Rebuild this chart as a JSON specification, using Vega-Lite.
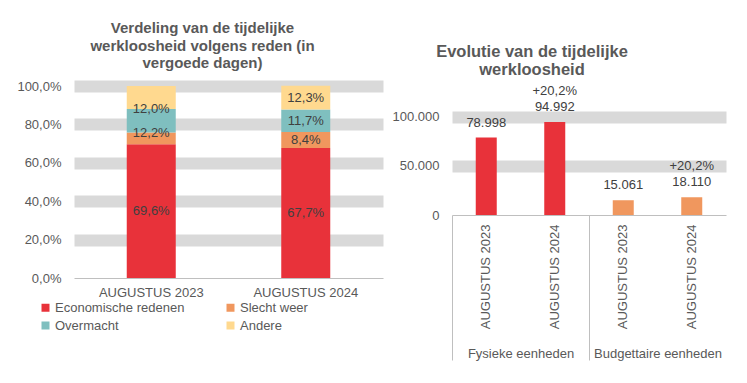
{
  "$schema": "https://vega.github.io/schema/vega-lite/v6.json",
  "padding": {"left": 16, "top": 21, "right": 5, "bottom": 5},
  "config": {
    "font": "Liberation Sans",
    "view": {"stroke": null},
    "locale": {"number": {"decimal": ",", "thousands": ".", "grouping": [3], "currency": ["€", ""]}},
    "axis": {"labelColor": "#595959", "labelFontSize": 13, "titleColor": "#595959", "domainColor": "#BFBFBF", "ticks": false, "labelOverlap": false},
    "title": {"color": "#595959", "fontSize": 15, "fontWeight": "bold", "lineHeight": 17.5}
  },
  "resolve": {"scale": {"color": "independent"}, "legend": {"color": "independent"}},
  "spacing": 9,
  "hconcat": [
    {
      "width": 309,
      "height": 192,
      "title": {"text": ["Verdeling van de tijdelijke", "werkloosheid volgens reden (in", "vergoede dagen)"], "dx": -26, "offset": 9},
      "data": {"values": [
        {"period": "AUGUSTUS 2023", "reden": "Economische redenen", "value": 0.696},
        {"period": "AUGUSTUS 2023", "reden": "Slecht weer", "value": 0.062},
        {"period": "AUGUSTUS 2023", "reden": "Overmacht", "value": 0.122},
        {"period": "AUGUSTUS 2023", "reden": "Andere", "value": 0.120},
        {"period": "AUGUSTUS 2024", "reden": "Economische redenen", "value": 0.677},
        {"period": "AUGUSTUS 2024", "reden": "Slecht weer", "value": 0.084},
        {"period": "AUGUSTUS 2024", "reden": "Overmacht", "value": 0.117},
        {"period": "AUGUSTUS 2024", "reden": "Andere", "value": 0.123}
      ]},
      "transform": [
        {"calculate": "indexof(['Economische redenen','Slecht weer','Overmacht','Andere'], datum.reden)", "as": "ord"}
      ],
      "encoding": {
        "x": {"field": "period", "type": "nominal", "scale": {"paddingInner": 0, "paddingOuter": 0},
              "axis": {"title": null, "labelAngle": 0, "labelPadding": 8}},
        "order": {"field": "ord", "type": "quantitative"}
      },
      "layer": [
        {
          "mark": {"type": "bar", "size": 49},
          "encoding": {
            "y": {"field": "value", "type": "quantitative", "stack": "zero",
                  "scale": {"domain": [0, 1], "nice": false},
                  "axis": {"title": null, "tickCount": 5, "format": ".1%", "domain": false, "labelPadding": 13,
                           "grid": true, "gridColor": "#D9D9D9",
                           "gridWidth": {"condition": {"test": "datum.value == 0", "value": 0}, "value": 12}}},
            "color": {"field": "reden", "type": "nominal",
                      "scale": {"domain": ["Economische redenen", "Slecht weer", "Overmacht", "Andere"],
                                "range": ["#E8323A", "#F0975E", "#7FBFBF", "#FFD98F"]},
                      "legend": {"title": null, "orient": "none", "legendX": -35, "legendY": 215, "columns": 2, "direction": "horizontal",
                                 "symbolType": "square", "symbolSize": 64, "symbolStrokeWidth": 0, "labelFontSize": 13, "labelColor": "#595959",
                                 "labelOffset": 3, "columnPadding": 39, "rowPadding": 4, "labelLimit": 300}}
          }
        },
        {
          "transform": [{"filter": "datum.value >= 0.07"}],
          "mark": {"type": "text", "fontSize": 13, "color": "#404040"},
          "encoding": {
            "y": {"field": "value", "type": "quantitative", "stack": "zero", "bandPosition": 0.5},
            "text": {"field": "value", "type": "quantitative", "format": ".1%"}
          }
        }
      ]
    },
    {
      "width": 274,
      "height": 129,
      "title": {"text": ["Evolutie van de tijdelijke", "werkloosheid"], "dx": -57, "offset": 6, "fontSize": 16.5, "lineHeight": 18.5},
      "data": {"values": [
        {"group": "Fysieke eenheden", "key": "F|AUGUSTUS 2023", "value": 78998, "change": ""},
        {"group": "Fysieke eenheden", "key": "F|AUGUSTUS 2024", "value": 94992, "change": "+20,2%"},
        {"group": "Budgettaire eenheden", "key": "B|AUGUSTUS 2023", "value": 15061, "change": ""},
        {"group": "Budgettaire eenheden", "key": "B|AUGUSTUS 2024", "value": 18110, "change": "+20,2%"}
      ]},
      "resolve": {"scale": {"x": "independent"}, "axis": {"x": "independent"}},
      "layer": [
        {
          "encoding": {
            "x": {"field": "key", "type": "nominal", "sort": null, "scale": {"paddingInner": 0, "paddingOuter": 0},
                  "axis": {"title": null, "orient": "bottom", "labelAngle": -90, "labelPadding": 9, "labelExpr": "split(datum.label, '|')[1]"}},
            "y": {"field": "value", "type": "quantitative", "scale": {"domain": [0, 131600], "nice": false},
                  "axis": {"title": null, "values": [0, 50000, 100000], "format": ",d", "domain": false, "labelPadding": 13,
                           "grid": true, "gridColor": "#D9D9D9",
                           "gridWidth": {"condition": {"test": "datum.value == 0", "value": 0}, "value": 12}}}
          },
          "layer": [
            {
              "mark": {"type": "bar", "size": 21},
              "encoding": {
                "color": {"field": "group", "type": "nominal", "scale": {"domain": ["Fysieke eenheden", "Budgettaire eenheden"], "range": ["#E8323A", "#F0975E"]}, "legend": null}
              }
            },
            {
              "mark": {"type": "text", "fontSize": 13, "color": "#404040", "dy": -15},
              "encoding": {"text": {"field": "value", "type": "quantitative", "format": ",d"}}
            },
            {
              "mark": {"type": "text", "fontSize": 13, "color": "#404040", "dy": -31},
              "encoding": {"text": {"field": "change", "type": "nominal"}}
            }
          ]
        },
        {
          "mark": {"type": "text", "text": ""},
          "encoding": {
            "x": {"field": "group", "type": "nominal", "sort": null, "scale": {"paddingInner": 0, "paddingOuter": 0},
                  "axis": {"title": null, "orient": "bottom", "labelAngle": 0, "domain": false, "ticks": true, "tickBand": "extent",
                           "tickSize": 145, "tickColor": "#BFBFBF", "labelPadding": -13,
                           "tickOpacity": {"condition": {"test": "datum.index == 1", "value": 0}, "value": 1}}}
          }
        }
      ]
    }
  ]
}
